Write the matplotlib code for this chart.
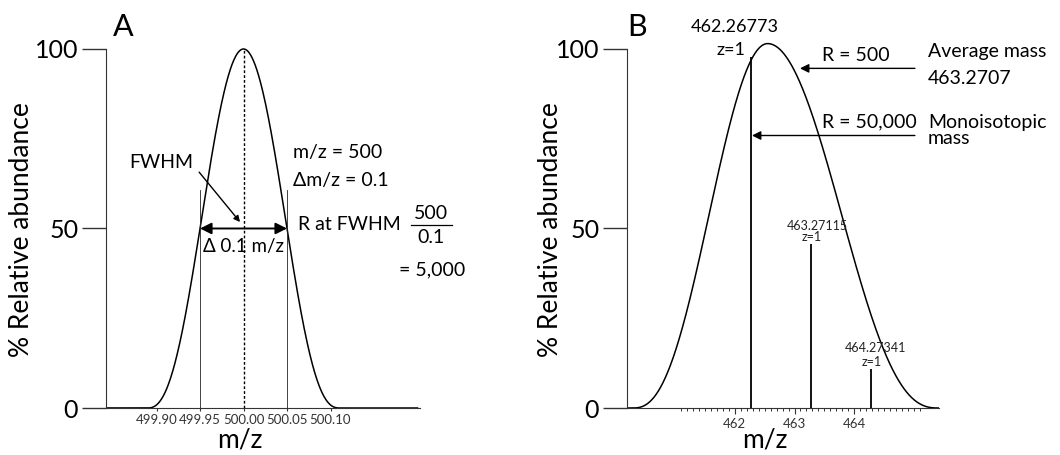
import numpy as np
import matplotlib
matplotlib.use('Agg')
import matplotlib.pyplot as plt
from matplotlib.ticker import FixedLocator

plt.rcParams['font.family'] = ['Lato', 'DejaVu Sans']

# Panel A: single peak, m/z 500, FWHM 0.1
a_center = 500.00
a_height = 100
a_fwhm = 0.1
a_ticks = [499.90, 499.95, 500.00, 500.05, 500.10]
a_tick_labels = ['499.90', '499.95', '500.00', '500.05', '500.10']

# Panel B: isotope sticks (R = 50,000) and the envelope at R = 500
b_iso_mz = [462.26773, 463.27115, 464.27341]
b_iso_abund = [97.7, 45.7, 10.9]
b_iso_labels = ['462.26773', '463.27115', '464.27341']
b_env_center = 462.55
b_env_height = 101.5
b_env_hwhm_left = 1.02
b_env_hwhm_right = 1.29
b_ticks = [462, 463, 464]

y_ticks = [0, 50, 100]
y_tick_labels = ['0', '50', '100']


def profile(x, center, height, hwhm_left, hwhm_right, power=2.5):
    # cos^p peak shape, half height reached at center -/+ hwhm
    k = np.pi / (2 * np.arccos(0.5 ** (1 / power)))
    w = np.where(x < center, hwhm_left * k, hwhm_right * k)
    u = np.abs(x - center) / w
    y = height * np.cos(np.pi * np.clip(u, 0, 1) / 2) ** power
    return np.where(u < 1, y, 0.0)


fig = plt.figure(figsize=(10.6, 4.55), dpi=100)
W, H = 1060, 455

axA = fig.add_axes([106 / W, (H - 408) / H, (420 - 106) / W, (408 - 40) / H])
axB = fig.add_axes([627 / W, (H - 408) / H, (939 - 627) / W, (408 - 40) / H])

spine_col = '#333333'
for ax in (axA, axB):
    ax.spines['top'].set_visible(False)
    ax.spines['right'].set_visible(False)
    ax.spines['left'].set_bounds(0, 100)
    ax.spines['left'].set_color(spine_col)
    ax.spines['bottom'].set_color(spine_col)
    ax.set_ylim(0, 102.5)
    ax.set_yticks(y_ticks)
    ax.set_yticklabels(y_tick_labels, fontsize=18)
    ax.tick_params(axis='y', direction='out', length=17, width=1, color=spine_col, pad=3)

# ---------------- Panel A ----------------
axA.set_xlim(500 - 137.5 / 870, 500 + 176.5 / 870)
xa = np.linspace(499.80, 500.20, 800)
axA.plot(xa, profile(xa, a_center, a_height, a_fwhm / 2, a_fwhm / 2), color='black', lw=1.1)
axA.set_xticks(a_ticks)
axA.set_xticklabels(a_tick_labels, fontsize=9.5, color='#333333')
axA.tick_params(axis='x', direction='out', length=2.5, width=0.8, color=spine_col, pad=1.5)

axA.plot([a_center, a_center], [0, a_height], color='black', lw=1, linestyle=(0, (2, 1.5)))
for xv in (a_center - a_fwhm / 2, a_center + a_fwhm / 2):
    axA.plot([xv, xv], [0, 60.7], color='#222222', lw=0.6)

axA.annotate('', xy=(a_center - a_fwhm / 2, 50), xytext=(a_center + a_fwhm / 2, 50),
             arrowprops=dict(arrowstyle='<|-|>', lw=1.4, color='black',
                             mutation_scale=17, shrinkA=0, shrinkB=0))
axA.text(500.0, 45.1, 'Δ 0.1 m/z', fontsize=13.5, ha='center', va='center')
axA.text(499.905, 68.5, 'FWHM', fontsize=14, ha='center', va='center')
axA.annotate('', xy=(499.996, 51.8), xytext=(499.949, 65.7),
             arrowprops=dict(arrowstyle='-|>', lw=1, color='black',
                             mutation_scale=9, shrinkA=0, shrinkB=0))
axA.text(500.057, 71.3, 'm/z = 500', fontsize=14, ha='left', va='center')
axA.text(500.057, 63.5, 'Δm/z = 0.1', fontsize=14, ha='left', va='center')
axA.text(500.063, 51.0, 'R at FWHM', fontsize=14, ha='left', va='center')
axA.text(500.216, 54.2, '500', fontsize=14, ha='center', va='center')
axA.plot([500.193, 500.240], [51.1, 51.1], color='black', lw=0.9, clip_on=False)
axA.text(500.216, 47.6, '0.1', fontsize=14, ha='center', va='center')
axA.text(500.217, 38.4, '= 5,000', fontsize=14, ha='center', va='center')
axA.text(499.862, 106, 'A', fontsize=22, ha='center', va='center')

# ---------------- Panel B ----------------
axB.set_xlim(462 - 107.7 / 59.8, 462 + 204.3 / 59.8)
xb = np.linspace(460.0, 465.6, 1200)
axB.plot(xb, profile(xb, b_env_center, b_env_height, b_env_hwhm_left, b_env_hwhm_right),
         color='black', lw=1.1)
axB.vlines(b_iso_mz, 0, b_iso_abund, color='black', lw=1.3)

axB.set_xticks(b_ticks)
axB.set_xticklabels([str(t) for t in b_ticks], fontsize=9.5, color='#333333')
axB.xaxis.set_minor_locator(FixedLocator(np.arange(461.1, 465.15, 0.1)))
axB.tick_params(axis='x', which='major', direction='out', length=4, width=0.8, color=spine_col, pad=3)
axB.tick_params(axis='x', which='minor', direction='out', length=2.5, width=0.7, color=spine_col)

axB.text(462.005, 106, b_iso_labels[0], fontsize=13, ha='center', va='center')
axB.text(461.94, 99.6, 'z=1', fontsize=13, ha='center', va='center')
axB.text(463.376, 50.8, b_iso_labels[1], fontsize=9, ha='center', va='center', color='#222222')
axB.text(463.29, 47.5, 'z=1', fontsize=9, ha='center', va='center', color='#222222')
axB.text(464.36, 16.6, b_iso_labels[2], fontsize=9, ha='center', va='center', color='#222222')
axB.text(464.295, 12.7, 'z=1', fontsize=9, ha='center', va='center', color='#222222')

axB.annotate('', xy=(463.092, 94.6), xytext=(465.013, 94.6),
             arrowprops=dict(arrowstyle='-|>', lw=1, color='black',
                             mutation_scale=13, shrinkA=0, shrinkB=0), annotation_clip=False)
axB.text(463.46, 98.3, 'R = 500', fontsize=14, ha='left', va='center')
axB.text(465.232, 99.3, 'Average mass', fontsize=14, ha='left', va='center', clip_on=False)
axB.text(465.232, 91.8, '463.2707', fontsize=14, ha='left', va='center', clip_on=False)

axB.annotate('', xy=(462.289, 75.9), xytext=(465.013, 75.9),
             arrowprops=dict(arrowstyle='-|>', lw=1, color='black',
                             mutation_scale=13, shrinkA=0, shrinkB=0), annotation_clip=False)
axB.text(463.46, 79.6, 'R = 50,000', fontsize=14, ha='left', va='center')
axB.text(465.232, 79.6, 'Monoisotopic', fontsize=14, ha='left', va='center', clip_on=False)
axB.text(465.232, 75.2, 'mass', fontsize=14, ha='left', va='center', clip_on=False)
axB.text(460.375, 106, 'B', fontsize=22, ha='center', va='center')

# axis titles
fig.text(22 / W, 1 - 230 / H, '% Relative abundance', rotation=90, ha='center', va='center', fontsize=19)
fig.text(550 / W, 1 - 230 / H, '% Relative abundance', rotation=90, ha='center', va='center', fontsize=19)
fig.text(240 / W, 1 - 440 / H, 'm/z', ha='center', va='center', fontsize=19)
fig.text(765 / W, 1 - 440 / H, 'm/z', ha='center', va='center', fontsize=19)

fig.savefig('out.png', dpi=100)
